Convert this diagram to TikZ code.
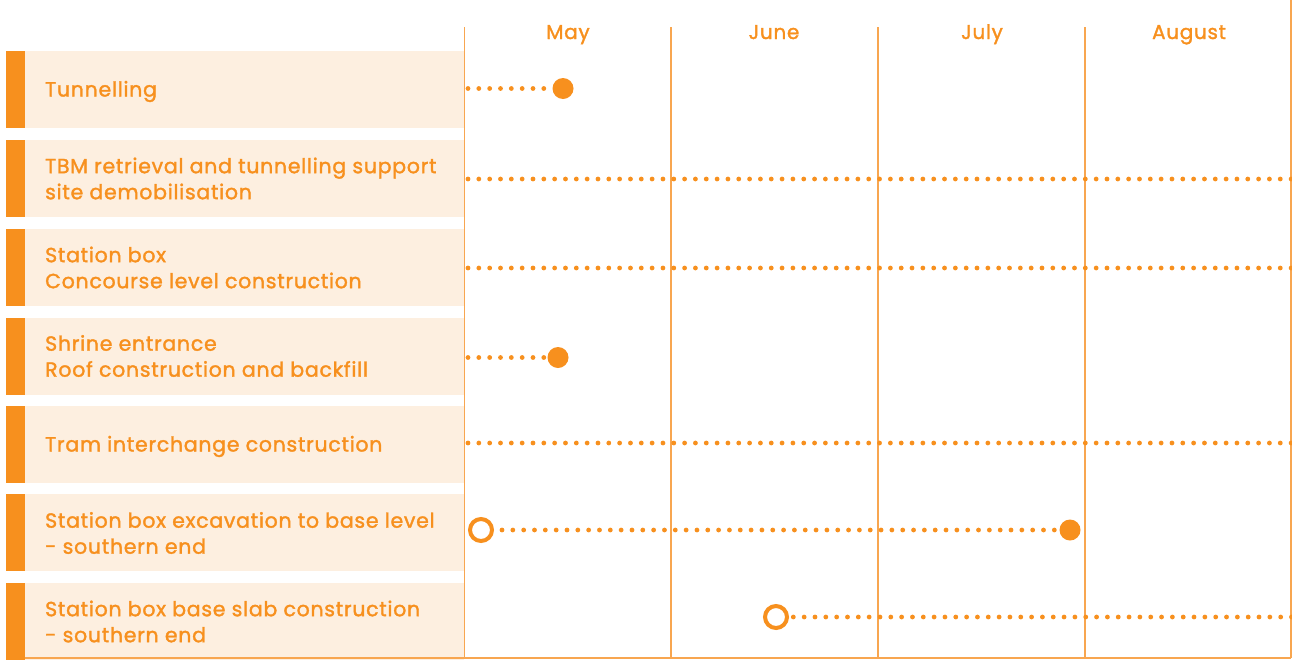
\documentclass[tikz,border=0pt]{standalone}
\usepackage{fontspec}
\setmainfont{Poppins}[FakeBold=1.6,LetterSpace=3.5]
\definecolor{org}{HTML}{F7901E}
\definecolor{orgline}{HTML}{F8A650}
\definecolor{pale}{HTML}{FDEFE0}
\begin{document}
\begin{tikzpicture}[x=1pt,y=-1pt,
  rowbox/.style={fill=pale,draw=none,minimum width=439pt,minimum height=77pt,inner sep=0pt,anchor=north west},
  rowbar/.style={fill=org,draw=none,minimum width=19pt,minimum height=77pt,inner sep=0pt,anchor=north west},
  rowtext/.style={text=org,font=\fontsize{20.5}{26}\selectfont,align=left,anchor=west,inner sep=0pt},
  month/.style={text=org,font=\fontsize{20}{22}\selectfont,anchor=base,inner sep=0pt},
  grid/.style={draw=orgline,line width=1.3pt},
  dotline/.style={draw=org,line width=4.8pt,line cap=round,dash pattern=on 0pt off 10.83pt},
  filled/.style={circle,fill=org,minimum size=21pt,inner sep=0pt},
  hollow/.style={circle,draw=org,line width=4pt,fill=white,minimum size=22pt,inner sep=0pt}
]
\useasboundingbox (0,0) rectangle (1292,659);
% row boxes
\foreach \i/\t in {1/51,2/140,3/229,4/318,5/406,6/494,7/583}{
  \node[rowbox] (box\i) at (25,\t) {};
  \node[rowbar] (bar\i) at (6,\t) {};
}
% grid
\coordinate (g0t) at (464.5,27); \coordinate (g0b) at (464.5,658);
\coordinate (g1t) at (671,27); \coordinate (g1b) at (671,658);
\coordinate (g2t) at (878,27); \coordinate (g2b) at (878,658);
\coordinate (g3t) at (1085,27); \coordinate (g3b) at (1085,658);
\coordinate (g4t) at (1291,0); \coordinate (g4b) at (1291,658);
\coordinate (bl) at (25,658);
\draw[grid] (g0t) -- (g0b);
\draw[grid] (g1t) -- (g1b);
\draw[grid] (g2t) -- (g2b);
\draw[grid] (g3t) -- (g3b);
\draw[grid] (g4t) -- (g4b);
\draw[grid] (bl) -- (g4b);
% months
\node[month] (may) at (568,39) {May};
\node[month] (jun) at (774,39) {June};
\node[month] (jul) at (982,39) {July};
\node[month] (aug) at (1189,39) {August};
% row texts
\node[rowtext,anchor=base west] (t1) at (45,96.5) {Tunnelling};
\node[rowtext] (t2) at (45,178.5) {TBM retrieval and tunnelling support\\site demobilisation};
\node[rowtext] (t3) at (45,267.5) {Station box\\Concourse level construction};
\node[rowtext] (t4) at (45,356) {Shrine entrance\\Roof construction and backfill};
\node[rowtext,anchor=base west] (t5) at (45,451.5) {Tram interchange construction};
\node[rowtext] (t6) at (45,533) {Station box excavation to base level\\- southern end};
\node[rowtext] (t7) at (45,621.5) {Station box base slab construction\\- southern end};
% timelines
\coordinate (s1) at (468,88.5);
\node[filled] (e1) at (563,88.5) {};
\draw[dotline] (s1) -- ([xshift=-3pt]e1.west);
\coordinate (s2) at (468,179); \coordinate (e2) at (1291.5,179);
\draw[dotline] (s2) -- (e2);
\coordinate (s3) at (468,268); \coordinate (e3) at (1291.5,268);
\draw[dotline] (s3) -- (e3);
\coordinate (s4) at (468,357.5);
\node[filled] (e4) at (558,357.5) {};
\draw[dotline] (s4) -- ([xshift=-3pt]e4.west);
\coordinate (s5) at (468,443); \coordinate (e5) at (1291.5,443);
\draw[dotline] (s5) -- (e5);
\node[hollow] (s6) at (481,530) {};
\node[filled] (e6) at (1070,530) {};
\draw[dotline] ([xshift=8pt]s6.east) -- ([xshift=-3pt]e6.west);
\node[hollow] (s7) at (776,617) {};
\coordinate (e7) at (1291.5,617);
\draw[dotline] (e7) -- (s7.east);
\end{tikzpicture}
\end{document}
